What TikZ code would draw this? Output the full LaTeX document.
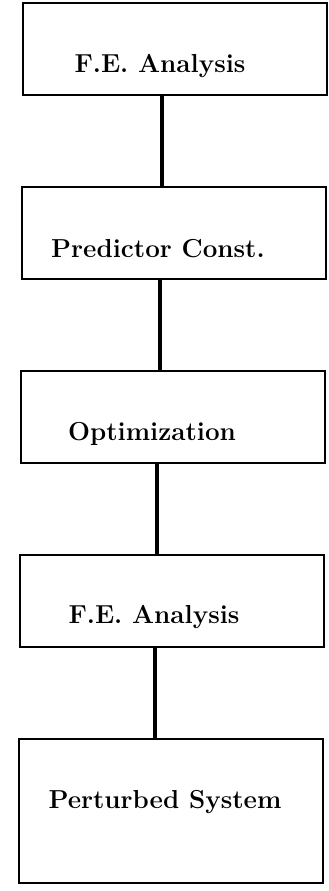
\documentclass[tikz,border=0pt]{standalone}
\begin{document}
\begin{tikzpicture}[x=1pt,y=-1pt]
	\tikzstyle{stage}=[rectangle,draw=black,line width=2.2pt,minimum width=304pt,minimum height=92pt,inner sep=0pt]
	\tikzstyle{stagetext}=[font=\fontsize{26}{31}\selectfont\bfseries,inner sep=0pt,anchor=base]
	\tikzstyle{edge}=[draw, line width=3.5pt]
	\useasboundingbox (0,0) rectangle (329,891);
	\begin{scope}
		\node [stage] (s1) at (175,49) {};
		\node [stage] (s2) at (174,233) {};
		\node [stage] (s3) at (173,417) {};
		\node [stage] (s4) at (172,601) {};
		\node [stage,minimum height=144pt] (s5) at (171,811) {};
		\node [stagetext] (t1) at (160,73) {F.E. Analysis};
		\node [stagetext] (t2) at (158,257) {Predictor Const.};
		\node [stagetext] (t3) at (152,440) {Optimization};
		\node [stagetext] (t4) at (154,623) {F.E. Analysis};
		\node [stagetext] (t5) at (165,808) {Perturbed System};
		\path[edge] ([xshift=-13pt]s1.south) edge ([xshift=-13pt]s1.south |- s2.north);
		\path[edge] ([xshift=-14pt]s2.south) edge ([xshift=-14pt]s2.south |- s3.north);
		\path[edge] ([xshift=-16pt]s3.south) edge ([xshift=-16pt]s3.south |- s4.north);
		\path[edge] ([xshift=-17pt]s4.south) edge ([xshift=-17pt]s4.south |- s5.north);
	\end{scope}
\end{tikzpicture}
\end{document}
